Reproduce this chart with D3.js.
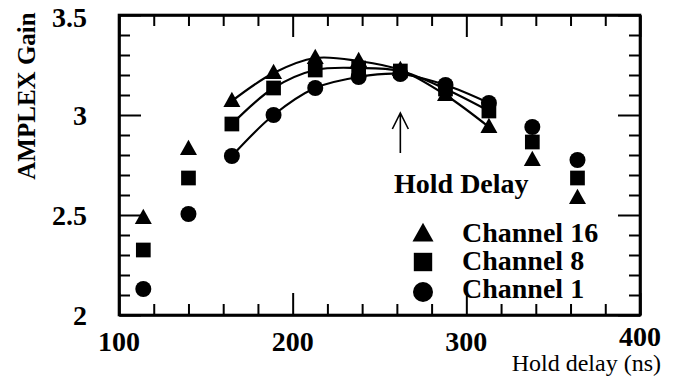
<!DOCTYPE html>
<html><head><meta charset="utf-8">
<script src="https://cdn.jsdelivr.net/npm/d3@7"></script>
<style>
body{margin:0;background:#fff;}
svg{display:block;}
</style></head>
<body><svg id="c" width="683" height="382" font-family="'Liberation Serif', 'DejaVu Serif', 'Times New Roman', Times, serif"></svg>
<script>
const holdDelay = [114, 140, 165, 189, 213, 238, 262, 288, 313, 338, 364];
const channel16 = [2.485, 2.83, 3.07, 3.21, 3.285, 3.27, 3.225, 3.10, 2.94, 2.775, 2.585];
const channel8  = [2.325, 2.685, 2.955, 3.135, 3.225, 3.235, 3.22, 3.13, 3.02, 2.865, 2.685];
const channel1  = [2.13, 2.505, 2.795, 3.0, 3.135, 3.19, 3.205, 3.15, 3.06, 2.94, 2.775];
const fitFrom = 2, fitTo = 8;
const xTickLabels = [100, 200, 300, 400];
const yTickLabels = [2, 2.5, 3, 3.5];
const seriesNames = ["Channel 16", "Channel 8", "Channel 1"];

const svg = d3.select("#c");
const L = 119, R = 640, T = 15, B = 315;
const x = d3.scaleLinear().domain([100, 400]).range([L, R]);
const y = d3.scaleLinear().domain([2, 3.5]).range([B, T]);

const series = [
  {name: seriesNames[0], vals: channel16, sym: "tri"},
  {name: seriesNames[1], vals: channel8, sym: "sq"},
  {name: seriesNames[2], vals: channel1, sym: "circ"}
];

function symPath(type, s) {
  const p = d3.path();
  if (type === "tri") {
    const h = s * 0.9;
    p.moveTo(0, -h * 0.6); p.lineTo(s / 2, h * 0.4); p.lineTo(-s / 2, h * 0.4); p.closePath();
  } else if (type === "sq") {
    p.rect(-s * 0.46, -s * 0.46, s * 0.92, s * 0.92);
  } else {
    p.arc(0, 0, s * 0.5, 0, 2 * Math.PI);
  }
  return p.toString();
}

// fit curves
const line = d3.line().x(d => x(d[0])).y(d => y(d[1])).curve(d3.curveCatmullRom.alpha(0.5));
series.forEach(s => {
  const pts = holdDelay.map((h, i) => [h, s.vals[i]]).slice(fitFrom, fitTo + 1);
  svg.append("path").attr("d", line(pts)).attr("fill", "none")
    .attr("stroke", "#000").attr("stroke-width", 2.2);
});

// markers
series.forEach(s => {
  svg.append("g").selectAll("path").data(holdDelay.map((h, i) => [h, s.vals[i]]))
    .join("path")
    .attr("transform", d => `translate(${x(d[0])},${y(d[1])})`)
    .attr("d", symPath(s.sym, s.sym === "tri" ? 17 : 16))
    .attr("fill", "#000");
});

// axes frame
const axG = svg.append("g");
const xTicks = d3.range(100, 401, 20);
const yTicks = d3.range(20, 36, 1).map(v => v / 10);
const xAxB = d3.axisBottom(x).tickValues(xTicks).tickSizeOuter(0).tickFormat("");
const xAxT = d3.axisTop(x).tickValues(xTicks).tickSizeOuter(0).tickFormat("");
const yAxL = d3.axisLeft(y).tickValues(yTicks).tickSizeOuter(0).tickFormat("");
const yAxR = d3.axisRight(y).tickValues(yTicks).tickSizeOuter(0).tickFormat("");
function styleAxis(g, majors, isX, dir) {
  g.select(".domain").attr("stroke", "#000").attr("stroke-width", 2.6);
  g.selectAll(".tick line").attr("stroke", "#000").attr("stroke-width", 2)
    .each(function(d) {
      const maj = majors.some(m => Math.abs(m - d) < 1e-6);
      d3.select(this).attr(isX ? "y2" : "x2", dir * (maj ? 22 : 11)).attr(isX ? "x2" : "y2", null);
    });
}
axG.append("g").attr("transform", `translate(0,${B})`).call(xAxB).call(g => styleAxis(g, xTickLabels, true, -1));
axG.append("g").attr("transform", `translate(0,${T})`).call(xAxT).call(g => styleAxis(g, xTickLabels, true, 1));
axG.append("g").attr("transform", `translate(${L},0)`).call(yAxL).call(g => styleAxis(g, yTickLabels, false, 1));
axG.append("g").attr("transform", `translate(${R},0)`).call(yAxR).call(g => styleAxis(g, yTickLabels, false, -1));
axG.append("rect").attr("x", L).attr("y", T).attr("width", R - L).attr("height", B - T)
  .attr("fill", "none").attr("stroke", "#000").attr("stroke-width", 2.6);

// tick labels
svg.append("g").selectAll("text").data(xTickLabels).join("text")
  .attr("x", d => x(d)).attr("y", d => d === 400 ? 346 : 351).attr("text-anchor", "middle")
  .attr("font-size", 28).attr("font-weight", "bold").text(d => d);
svg.append("g").selectAll("text").data(yTickLabels).join("text")
  .attr("x", 87).attr("y", d => y(d) + (d === 3.5 ? 12 : 10)).attr("text-anchor", "end")
  .attr("font-size", 28).attr("font-weight", "bold").text(d => d);

// axis titles
svg.append("text").attr("x", 661).attr("y", 371).attr("text-anchor", "end")
  .attr("font-size", 24).text("Hold delay (ns)");
svg.append("text").attr("transform", "translate(35,96) rotate(-90)").attr("text-anchor", "middle")
  .attr("font-size", 25).attr("font-weight", "bold").text("AMPLEX Gain");

// annotation
svg.append("text").attr("x", 394).attr("y", 193).attr("font-size", 28).attr("font-weight", "bold").text("Hold Delay");
const ax = x(262);
svg.append("path").attr("d", `M${ax},153 L${ax},113 M${ax - 8},129 L${ax},113 L${ax + 8},129`)
  .attr("fill", "none").attr("stroke", "#000").attr("stroke-width", 1.6);

// legend
const lg = svg.append("g");
series.forEach((s, i) => {
  const yy = 242 + i * 28;
  lg.append("path").attr("transform", `translate(423,${yy - 8 + (s.sym === "circ" ? 2 : 0)})`)
    .attr("d", symPath(s.sym, s.sym === "tri" ? 21 : 20)).attr("fill", "#000");
  lg.append("text").attr("x", 462).attr("y", yy).attr("font-size", 28).attr("font-weight", "bold").text(s.name);
});
</script></body></html>
